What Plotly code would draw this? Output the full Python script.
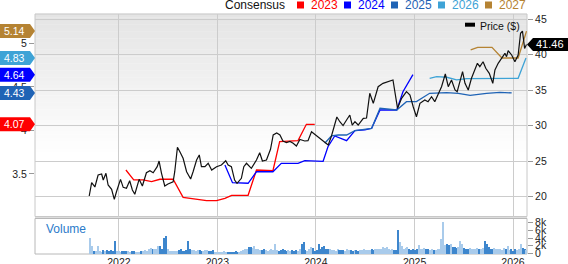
import plotly.graph_objects as go
import pandas as pd
import numpy as np

# ---------------- data ----------------
price_dates = [
    "2021-09-13", "2021-09-22", "2021-10-04", "2021-10-16", "2021-10-29", "2021-11-04", "2021-11-14",
    "2021-11-22", "2021-12-05", "2021-12-15", "2021-12-23",
    "2022-01-07", "2022-01-17", "2022-01-29", "2022-02-10", "2022-02-20", "2022-03-01", "2022-03-17",
    "2022-03-29", "2022-04-13", "2022-04-26", "2022-05-08", "2022-05-23", "2022-05-30", "2022-06-08",
    "2022-06-20", "2022-07-02", "2022-07-21", "2022-07-27", "2022-08-06", "2022-08-15", "2022-08-27",
    "2022-09-09", "2022-09-24", "2022-10-03", "2022-10-16", "2022-10-26", "2022-11-03", "2022-11-16",
    "2022-11-28", "2022-12-11", "2022-12-29",
    "2023-01-16", "2023-02-01", "2023-02-10", "2023-02-22", "2023-03-06", "2023-03-15", "2023-03-31",
    "2023-04-09", "2023-04-19", "2023-05-07", "2023-05-26", "2023-06-07", "2023-06-17", "2023-07-02",
    "2023-07-17", "2023-07-27", "2023-08-09", "2023-08-21", "2023-09-01", "2023-09-14", "2023-09-27",
    "2023-10-09", "2023-10-21", "2023-11-03", "2023-11-21", "2023-12-03", "2023-12-16", "2023-12-26",
    "2024-01-10", "2024-01-22", "2024-02-03", "2024-02-16", "2024-02-28", "2024-03-11", "2024-03-19",
    "2024-03-30", "2024-04-11", "2024-04-24", "2024-05-06", "2024-05-15", "2024-05-25", "2024-06-06",
    "2024-06-25", "2024-07-07", "2024-07-19", "2024-08-01", "2024-08-19", "2024-09-06", "2024-09-25",
    "2024-10-13", "2024-10-30", "2024-11-14", "2024-12-02", "2024-12-15", "2024-12-27",
    "2025-01-08", "2025-01-21", "2025-02-08", "2025-02-20", "2025-03-05", "2025-03-17", "2025-03-29",
    "2025-04-11", "2025-04-25", "2025-05-06", "2025-05-18", "2025-05-31", "2025-06-08", "2025-06-18",
    "2025-06-28", "2025-07-07", "2025-07-19", "2025-07-31", "2025-08-13", "2025-08-22", "2025-08-31",
    "2025-09-12", "2025-09-22", "2025-10-05", "2025-10-18", "2025-10-26", "2025-11-07", "2025-11-20",
    "2025-12-02", "2025-12-08", "2025-12-14", "2025-12-27",
    "2026-01-08", "2026-01-20", "2026-01-29", "2026-02-05", "2026-02-13", "2026-02-20",
]
price_values = [
    20.10, 21.97, 21.37, 23.06, 23.20, 22.35, 23.30, 21.65, 21.04, 19.63, 20.70,
    22.45, 21.32, 21.18, 22.25, 20.94, 20.34, 22.45, 21.51, 23.38, 23.66, 23.38, 24.23, 25.03, 23.30,
    21.51, 21.79, 22.11, 23.52, 26.96, 26.34, 25.41, 23.52, 22.49, 23.52, 25.17, 25.88, 24.23, 24.23,
    24.71, 23.76, 24.23,
    24.47, 25.07, 24.47, 24.23, 22.35, 21.89, 22.59, 24.23, 24.71, 24.00, 25.17, 26.20, 25.03, 25.17,
    26.68, 28.70, 28.98, 28.70, 27.85, 27.64, 27.78, 27.53, 27.15, 28.06, 27.85, 27.89, 29.16, 28.84,
    28.46, 27.99, 27.61, 27.29, 28.55, 30.34, 31.23, 30.57, 30.03, 30.81, 31.51, 30.10, 30.57, 30.10,
    31.05, 31.09, 34.57, 33.16, 35.50, 35.98, 36.21, 36.45, 32.46, 33.87, 34.80, 34.33, 32.68,
    31.27, 33.16, 33.63, 33.39, 34.09, 33.39, 34.47, 35.50, 37.29, 35.50, 36.45, 35.04, 34.80, 36.21,
    37.62, 35.98, 35.04, 36.69, 38.09, 38.80, 38.32, 39.02, 38.09, 37.39, 35.98, 37.86, 38.80, 39.50,
    40.21, 39.73, 40.57, 39.97,
    39.02, 39.97, 43.03, 43.35, 40.90, 41.46,
]

eps_2023_dates = ["2022-01-27", "2022-02-25", "2022-04-01", "2022-05-02", "2022-06-02", "2022-07-21",
                  "2022-08-27", "2022-10-16", "2022-11-22", "2022-12-29", "2023-01-29", "2023-02-23",
                  "2023-04-25", "2023-05-26", "2023-07-26", "2023-08-20", "2023-10-27", "2023-11-27",
                  "2023-12-28"]
eps_2023 = [3.545, 3.431, 3.431, 3.411, 3.439, 3.439, 3.232, 3.209, 3.193, 3.193, 3.220, 3.255,
            3.255, 3.545, 3.537, 3.870, 3.882, 4.070, 4.070]

eps_2024_dates = ["2023-01-29", "2023-02-26", "2023-04-25", "2023-05-26", "2023-07-26", "2023-08-26",
                  "2023-10-27", "2023-11-21", "2024-01-28", "2024-02-15", "2024-03-11", "2024-04-24",
                  "2024-05-25", "2024-07-01", "2024-07-26", "2024-08-26", "2024-10-27", "2024-11-19",
                  "2024-12-26"]
eps_2024 = [3.603, 3.400, 3.393, 3.525, 3.525, 3.622, 3.622, 3.652, 3.645, 3.813, 3.936, 3.882,
            3.997, 4.005, 4.024, 4.234, 4.234, 4.444, 4.64]

eps_2025_dates = ["2024-02-03", "2024-02-28", "2024-03-24", "2024-04-24", "2024-05-25", "2024-07-26",
                  "2024-08-26", "2024-10-27", "2024-12-02", "2025-01-08", "2025-02-26", "2025-04-30",
                  "2025-06-12", "2025-07-26", "2025-09-25", "2025-11-13", "2025-12-27"]
eps_2025 = [3.852, 3.936, 3.947, 3.947, 3.997, 4.024, 4.254, 4.234, 4.330, 4.330, 4.426, 4.433,
            4.426, 4.403, 4.426, 4.437, 4.43]

eps_2026_dates = ["2025-02-26", "2025-03-24", "2025-04-30", "2025-06-06", "2025-07-13", "2025-09-25",
                  "2026-01-20", "2026-02-18"]
eps_2026 = [4.598, 4.617, 4.610, 4.579, 4.594, 4.598, 4.598, 4.83]

eps_2027_dates = ["2025-07-28", "2025-08-23", "2025-10-15", "2025-11-21", "2026-01-20", "2026-02-02",
                  "2026-02-20"]
eps_2027 = [4.923, 4.954, 4.954, 4.831, 4.831, 4.961, 5.14]

consensus_years = ["2023", "2024", "2025", "2026", "2027"]
consensus_colors = ["#ff0000", "#0000ff", "#1f63b5", "#3ea3d6", "#b58333"]
consensus_current = [4.07, 4.64, 4.43, 4.83, 5.14]
last_price = 41.46

# weekly volume (thousands), starting week of 2021-09-17
volume_start = "2021-09-17"
volume_k = [
    4.2, 2.2, 0.8, 0.7, 2.2, 0.9, 0.6, 1.0, 0.9, 1.0, 0.8, 1.0, 0.7,
    3.3,
    0.7, 0.8, 0.6, 0.7, 0.8, 0.9, 0.7, 0.6, 0.8, 0.7, 0.6, 0.5, 0.6, 0.7, 0.9, 1.0, 0.8,
    1.2, 1.5, 1.3, 1.4, 1.2,
    2.2, 2.0, 1.3, 4.2, 4.8,
    1.4, 0.9, 0.8, 0.8, 0.9, 0.7, 1.0, 1.2, 0.9, 0.8, 1.0,
    3.5,
    1.2, 1.1, 1.0, 0.9, 1.0, 1.1, 0.8, 0.9, 1.0, 1.1, 0.7, 0.8, 1.0, 0.6,
    0.5, 0.6, 0.4, 0.5, 0.7, 0.6, 0.5, 0.4, 0.6, 0.5, 0.7, 0.4, 0.6, 0.8,
    1.0, 1.2, 1.4, 1.7, 1.9, 1.5,
    2.2,
    1.3, 1.2, 1.1, 1.0, 1.2, 1.1, 0.9, 1.0, 1.3, 1.1,
    2.7,
    1.0, 0.9, 1.1, 1.3, 1.0, 0.8, 1.0, 0.9, 1.1, 0.9, 1.0, 0.8, 1.2,
    2.6, 3.0,
    1.0, 0.9, 1.2,
    1.7, 1.6,
    0.9, 1.0,
    2.6, 1.4, 1.7, 2.2,
    1.3, 1.4, 1.2, 1.0, 1.1, 0.9, 1.2, 1.0, 1.1, 1.0, 0.9, 1.2, 1.0, 1.1, 0.9, 1.0, 1.0, 0.9, 1.1, 1.0,
    1.2, 1.0, 1.1, 1.0, 1.2, 1.1, 1.3, 1.2, 1.4, 1.3,
    1.8, 1.6, 1.7,
    1.2, 1.0, 1.3, 1.1, 1.0,
    6.2, 3.0, 2.2,
    1.3, 1.5,
    1.9,
    1.2, 1.1, 1.3, 1.0, 1.2,
    2.4,
    1.4, 1.3, 1.5, 1.2, 1.3, 1.1, 1.2, 1.0, 1.1, 1.2, 1.4,
    3.9, 8.4,
    2.4, 2.5, 2.4, 2.5,
    1.7, 1.8, 1.6, 1.9,
    3.4, 2.6,
    1.6, 1.4, 1.3, 1.5, 1.2, 1.4, 1.3, 1.5, 1.2, 1.4, 1.6,
    3.3, 2.6,
    1.7, 1.4, 1.3, 1.5, 1.2, 1.4, 1.3, 1.1, 1.5, 1.3,
    2.2,
    1.0, 1.2, 0.9, 1.3, 1.1, 1.4,
    2.6, 1.5,
    1.2, 1.0,
]

year_ticks = ["2022", "2023", "2024", "2025", "2026"]
eps_ticks = [3.5, 4, 4.5, 5]
price_ticks = [20, 25, 30, 35, 40, 45]
volume_ticks = [0, 2000, 4000, 6000, 8000]
volume_tick_text = ["0", "2k", "4k", "6k", "8k"]

# ---------------- derived ----------------
vol_dates = pd.date_range(volume_start, periods=len(volume_k), freq="7D")
vol_values = [v * 1000 for v in volume_k]
p_ord = pd.to_datetime(price_dates).map(pd.Timestamp.toordinal).to_numpy()
w_price = np.interp(vol_dates.map(pd.Timestamp.toordinal).to_numpy(), p_ord, price_values)
vol_colors = ["#a9cbeb"]
for i in range(1, len(w_price)):
    vol_colors.append("#a9cbeb" if w_price[i] >= w_price[i - 1] else "#3d86cd")

FONT = "Arial, 'Liberation Sans', sans-serif"

fig = go.Figure()

eps_series = [
    (eps_2023_dates, eps_2023, consensus_colors[0]),
    (eps_2024_dates, eps_2024, consensus_colors[1]),
    (eps_2025_dates, eps_2025, consensus_colors[2]),
    (eps_2026_dates, eps_2026, consensus_colors[3]),
    (eps_2027_dates, eps_2027, consensus_colors[4]),
]
for d, v, c in eps_series:
    fig.add_trace(go.Scatter(x=d, y=v, mode="lines", line=dict(color=c, width=1.3),
                             xaxis="x", yaxis="y", hoverinfo="skip", showlegend=False))

fig.add_trace(go.Scatter(x=price_dates, y=price_values, mode="lines",
                         line=dict(color="#111111", width=1.2), xaxis="x", yaxis="y2",
                         hoverinfo="skip", showlegend=False))

fig.add_trace(go.Bar(x=vol_dates, y=vol_values, marker=dict(color=vol_colors, line=dict(width=0)),
                     width=4.6 * 86400000, xaxis="x", yaxis="y3", hoverinfo="skip", showlegend=False))

# ---------------- layout ----------------
W, H = 568, 264
ML, MR, MT, MB = 35, 41, 14, 10
PW, PH = W - ML - MR, H - MT - MB


def px_x(px):
    return (px - ML) / PW


def px_y(py):
    return (H - MB - py) / PH


main_bottom = px_y(216.5)
vol_top = px_y(218.5)

shapes = []
# gradient background in main panel
n_bands = 40
grad_end = 0.30  # fraction of main panel from the bottom where it becomes white
for i in range(n_bands):
    f0 = i / n_bands
    f1 = (i + 1) / n_bands
    y1 = 1 - f0 * (1 - main_bottom) * (1 - grad_end)
    y0 = 1 - f1 * (1 - main_bottom) * (1 - grad_end)
    g = int(round(228 + (255 - 228) * (f0 + f1) / 2))
    shapes.append(dict(type="rect", xref="paper", yref="paper", x0=0, x1=1, y0=y0, y1=y1 + 0.001,
                       fillcolor=f"rgb({g},{g},{g})", line=dict(width=0), layer="below"))
# separator band
shapes.append(dict(type="rect", xref="paper", yref="paper", x0=0, x1=1, y0=vol_top, y1=main_bottom,
                   fillcolor="#dddddd", line=dict(width=0), layer="below"))
# borders
shapes.append(dict(type="rect", xref="paper", yref="paper", x0=0, x1=1, y0=main_bottom, y1=1,
                   line=dict(color="#c8c8c8", width=1), layer="below"))
shapes.append(dict(type="rect", xref="paper", yref="paper", x0=0, x1=1, y0=0, y1=vol_top,
                   line=dict(color="#b8b8b8", width=1), layer="below"))

annotations = []
# left consensus tags
for val, col in zip(consensus_current, consensus_colors):
    shapes.append(dict(type="path", xref="paper", yref="y", xsizemode="pixel", ysizemode="pixel",
                       xanchor=0, yanchor=val,
                       path="M 0,0 L -5,7 L -35,7 L -35,-7 L -5,-7 Z",
                       fillcolor=col, line=dict(width=0), layer="above"))
    annotations.append(dict(x=0, y=val, xref="paper", yref="y", text=f"{val:.2f}", showarrow=False,
                            xanchor="center", yanchor="middle", xshift=-21,
                            font=dict(family=FONT, size=10.5, color="white")))

# right price tag
shapes.append(dict(type="path", xref="paper", yref="y2", xsizemode="pixel", ysizemode="pixel",
                   xanchor=1, yanchor=last_price,
                   path="M 0,0 L 6,6.5 L 45,6.5 L 45,-6.5 L 6,-6.5 Z",
                   fillcolor="#000000", line=dict(width=0), layer="above"))
annotations.append(dict(x=1, y=last_price, xref="paper", yref="y2", text=f"{last_price:.2f}",
                        showarrow=False, xanchor="left", yanchor="middle", xshift=7,
                        font=dict(family=FONT, size=11, color="white")))

# top legend
annotations.append(dict(x=px_x(223), y=px_y(5), xref="paper", yref="paper", text="Consensus",
                        showarrow=False, xanchor="left", yanchor="middle",
                        font=dict(family=FONT, size=12, color="#111111")))
for k, (yr, col) in enumerate(zip(consensus_years, consensus_colors)):
    sx = 297 + 47 * k
    shapes.append(dict(type="rect", xref="paper", yref="paper", x0=px_x(sx), x1=px_x(sx + 7),
                       y0=px_y(8.5), y1=px_y(1.5), fillcolor=col, line=dict(width=0)))
    annotations.append(dict(x=px_x(sx + 11.5), y=px_y(5), xref="paper", yref="paper", text=yr,
                            showarrow=False, xanchor="left", yanchor="middle",
                            font=dict(family=FONT, size=12, color=col)))

# Price legend inside plot
shapes.append(dict(type="rect", xref="paper", yref="paper", x0=px_x(465), x1=px_x(475),
                   y0=px_y(26.7), y1=px_y(22.7), fillcolor="#000000", line=dict(width=0)))
annotations.append(dict(x=px_x(478), y=px_y(25.5), xref="paper", yref="paper", text="Price ($)",
                        showarrow=False, xanchor="left", yanchor="middle",
                        font=dict(family=FONT, size=10.5, color="#111111")))

# Volume label
annotations.append(dict(x=px_x(44), y=px_y(228.5), xref="paper", yref="paper", text="Volume",
                        showarrow=False, xanchor="left", yanchor="middle",
                        font=dict(family=FONT, size=12, color="#2b7bca")))

tickfont = dict(family=FONT, size=10.5, color="#222222")

fig.update_layout(
    template="none",
    width=W, height=H,
    margin=dict(l=ML, r=MR, t=MT, b=MB, pad=0),
    paper_bgcolor="white",
    plot_bgcolor="rgba(0,0,0,0)",
    showlegend=False,
    bargap=0,
    font=dict(family=FONT, size=10.5, color="#222222"),
    xaxis=dict(type="date", range=["2021-02-24", "2026-02-21 20:00"], domain=[0, 1], anchor="y3",
               tickvals=[f"{y}-01-01" for y in year_ticks], ticktext=year_ticks, ticks="",
               showgrid=True, gridcolor="#cccccc", gridwidth=1, zeroline=False, showline=False,
               tickfont=tickfont, automargin=False, fixedrange=True),
    yaxis=dict(domain=[main_bottom, 1], range=[3.0115, 5.336], anchor="x", side="left",
               tickvals=eps_ticks, ticktext=[f"{t:g}" for t in eps_ticks], ticks="outside", ticklen=5,
               tickcolor="#999999", showgrid=False, zeroline=False, showline=False,
               tickfont=tickfont, automargin=False),
    yaxis2=dict(overlaying="y", range=[17.21, 45.747], anchor="x", side="right",
                tickvals=price_ticks, ticktext=[str(t) for t in price_ticks], ticks="outside",
                ticklen=5, tickcolor="#999999", showgrid=True, gridcolor="#cccccc", gridwidth=1,
                zeroline=False, showline=False, tickfont=tickfont, automargin=False),
    yaxis3=dict(domain=[0, vol_top], range=[-130, 9090], anchor="x", side="right",
                tickvals=volume_ticks, ticktext=volume_tick_text, ticks="outside", ticklen=5,
                tickcolor="#999999", showgrid=False, zeroline=False, showline=False,
                tickfont=tickfont, automargin=False),
    shapes=shapes,
    annotations=annotations,
)

fig.write_html("out.html")
